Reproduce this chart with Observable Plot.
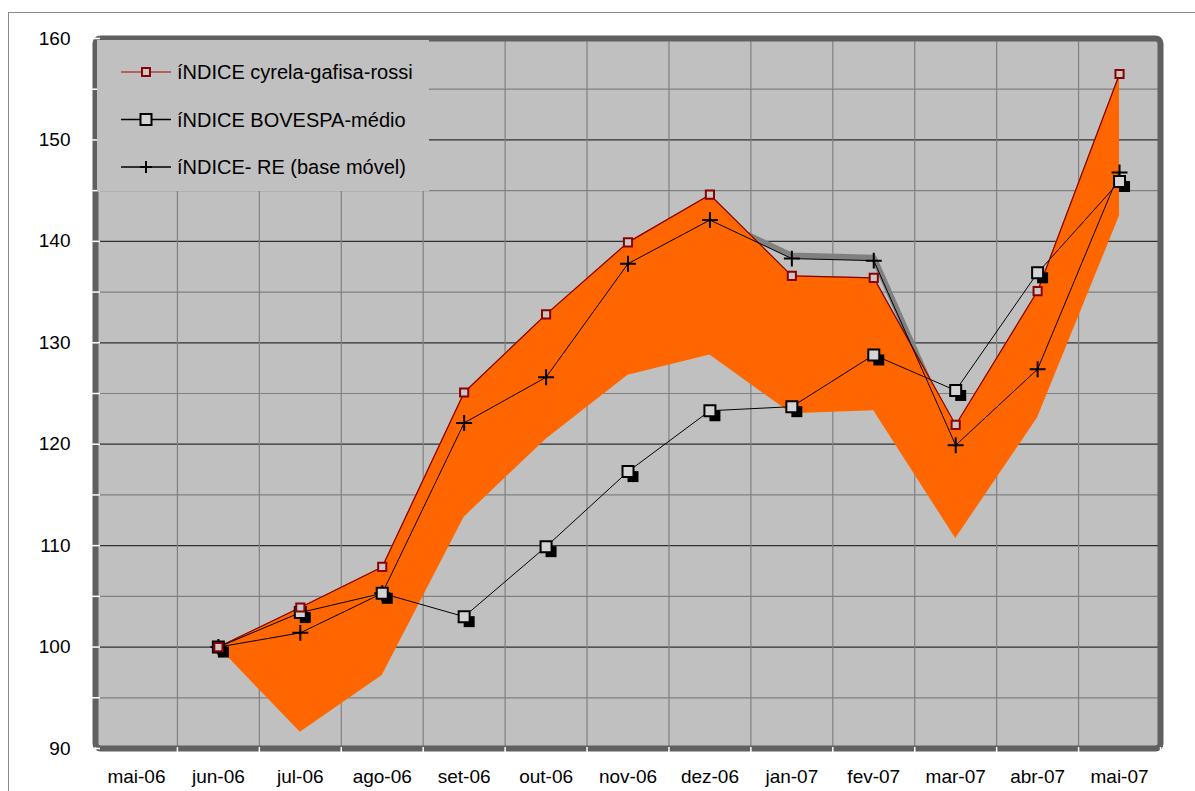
<!DOCTYPE html>
<html>
<head>
<meta charset="utf-8">
<script src="https://cdn.jsdelivr.net/npm/d3@7"></script>
<script src="https://cdn.jsdelivr.net/npm/@observablehq/plot@0.6"></script>
<style>
  html, body { margin: 0; padding: 0; background: #fff; width: 1195px; height: 791px; overflow: hidden; }
  #wrap { position: relative; width: 1195px; height: 791px; font-family: "Liberation Sans", Arial, sans-serif; }
  #outer { position: absolute; left: 8px; top: 12px; width: 1220px; height: 820px; border: 1.5px solid #8a8a8a; box-sizing: border-box; }
  #chart { position: absolute; left: 0; top: 0; }
  #legend { position: absolute; left: 97px; top: 40px; }
</style>
</head>
<body>
<div id="wrap">
  <div id="outer"></div>
  <div id="chart"></div>
  <div id="legend"></div>
</div>
<script>
// ---- data ----
const months = ["mai-06","jun-06","jul-06","ago-06","set-06","out-06","nov-06","dez-06","jan-07","fev-07","mar-07","abr-07","mai-07"];
const cyrela   = [null, 100, 103.9, 107.9, 125.1, 132.8, 139.9, 144.6, 136.6, 136.4, 121.9, 135.1, 156.5];
const bovespa  = [null, 100, 103.4, 105.3, 103.0, 109.9, 117.3, 123.3, 123.7, 128.8, 125.3, 136.9, 145.9];
const reIndex  = [null, 100, 101.4, 105.3, 122.1, 126.6, 137.8, 142.1, 138.3, 138.1, 119.9, 127.4, 146.8];
const bandLow  = [null, 100,  91.6,  97.2, 112.8, 120.5, 126.8, 128.8, 123.0, 123.3, 110.7, 122.6, 142.5];
const shadowIdx = [7, 8, 9, 10];   // months where the grey shadow of the RE line shows
const seriesNames = ["íNDICE cyrela-gafisa-rossi", "íNDICE BOVESPA-médio", "íNDICE- RE (base móvel)"];
const yMajor = [90, 100, 110, 120, 130, 140, 150, 160];
const yMinor = [95, 105, 115, 125, 135, 145, 155];

const idx = months.map((_, i) => i);
const pts = idx.filter(i => cyrela[i] != null);
const inner = idx.slice(1).map(i => i - 0.5);          // category boundaries between months
const edges = idx.map(i => i - 0.5).concat([months.length - 0.5]);
const font = "'Liberation Sans', Arial, sans-serif";

const chart = Plot.plot({
  width: 1195, height: 791,
  marginLeft: 95, marginRight: 35, marginTop: 38, marginBottom: 43,
  x: {type: "linear", domain: [-0.5, months.length - 0.5]},
  y: {domain: [90, 160]},
  style: {fontFamily: font, fontSize: "19px", background: "transparent", color: "#000", overflow: "visible"},
  marks: [
    Plot.frame({fill: "#c0c0c0"}),
    Plot.ruleY(yMinor, {stroke: "#808080", strokeWidth: 1.2}),
    Plot.ruleY(yMajor.slice(1, -1), {stroke: "#303030", strokeWidth: 1.2}),
    Plot.ruleX(inner, {stroke: "#808080", strokeWidth: 1.2}),
    Plot.line(shadowIdx, {x: i => i, y: i => reIndex[i], stroke: "#808080", strokeWidth: 6, dy: -3}),
    Plot.areaY(pts, {x: i => i, y1: i => bandLow[i], y2: i => cyrela[i], fill: "#ff6600"}),
    Plot.line(pts, {x: i => i, y: i => cyrela[i], stroke: "#800000", strokeWidth: 1.2}),
    Plot.line(pts, {x: i => i, y: i => bovespa[i], stroke: "#000", strokeWidth: 1}),
    Plot.line(pts, {x: i => i, y: i => reIndex[i], stroke: "#000", strokeWidth: 1}),
    Plot.dot(pts, {x: i => i, y: i => reIndex[i], symbol: "plus", r: 5.2, stroke: "#000", strokeWidth: 2}),
    Plot.dot(pts, {x: i => i, y: i => bovespa[i], symbol: "square", r: 6.2, fill: "#000", dx: 5, dy: 5}),
    Plot.dot(pts, {x: i => i, y: i => bovespa[i], symbol: "square", r: 6.2, fill: "#d4d4d4", stroke: "#000", strokeWidth: 2}),
    Plot.dot(pts, {x: i => i, y: i => cyrela[i], symbol: "square", r: 4.6, fill: "#c8c8c8", stroke: "#8b0000", strokeWidth: 2}),
    Plot.frame({stroke: "#606060", strokeWidth: 6, rx: 5}),
    Plot.axisY({ticks: yMajor.concat(yMinor), tickSize: 8, text: null, stroke: "#fff", strokeWidth: 1.5, dx: 5, label: null}),
    Plot.axisY({ticks: yMajor, tickSize: 0, tickPadding: 25, fontSize: 19, label: null}),
    Plot.axisX({ticks: edges, tickSize: 5, text: null, stroke: "#fff", strokeWidth: 1.5, dy: -1, label: null}),
    Plot.axisX({ticks: idx, tickFormat: i => months[i], tickSize: 0, tickPadding: 21, fontSize: 19, label: null})
  ]
});
document.getElementById("chart").append(chart);

// ---- legend ----
const lg = d3.select("#legend").append("svg").attr("width", 332).attr("height", 151)
  .style("display", "block");
lg.append("rect").attr("width", 332).attr("height", 151).attr("fill", "#c0c0c0");
const rows = [
  {stroke: "#b04040", kind: "small"},
  {stroke: "#000", kind: "big"},
  {stroke: "#000", kind: "plus"}
];
rows.forEach((r, k) => {
  const cy = 32 + k * 47.5;
  const g = lg.append("g").attr("transform", `translate(0,${cy})`);
  g.append("line").attr("x1", 24).attr("x2", 74).attr("stroke", r.stroke).attr("stroke-width", 1.3);
  if (r.kind === "small") {
    g.append("rect").attr("x", 45).attr("y", -4).attr("width", 8).attr("height", 8)
      .attr("fill", "#c8c8c8").attr("stroke", "#8b0000").attr("stroke-width", 2);
  } else if (r.kind === "big") {
    g.append("rect").attr("x", 43.5).attr("y", -5.5).attr("width", 11).attr("height", 11)
      .attr("fill", "#d4d4d4").attr("stroke", "#000").attr("stroke-width", 2);
  } else {
    g.append("path").attr("d", "M49,-6V6M43,0H55").attr("stroke", "#000").attr("stroke-width", 2);
  }
  g.append("text").attr("x", 80).attr("y", 0).attr("dy", "0.35em")
    .attr("font-family", font).attr("font-size", 20).attr("fill", "#000")
    .text(seriesNames[k]);
});
</script>
</body>
</html>
